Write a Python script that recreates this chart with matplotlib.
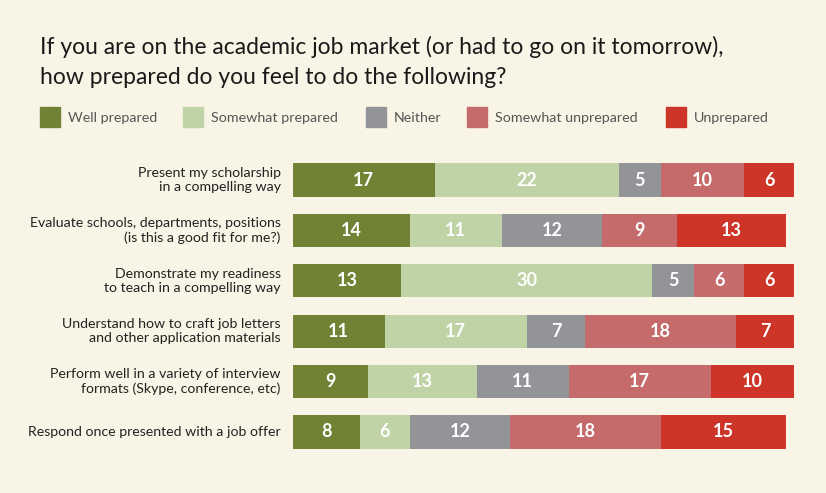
import matplotlib.pyplot as plt
import numpy as np

plt.rcParams['font.family'] = ['Lato', 'DejaVu Sans']

questions = ["Present my scholarship\nin a compelling way",
             "Evaluate schools, departments, positions\n(is this a good fit for me?)",
             "Demonstrate my readiness\nto teach in a compelling way",
             "Understand how to craft job letters\nand other application materials",
             "Perform well in a variety of interview\nformats (Skype, conference, etc)",
             "Respond once presented with a job offer"]
categories = ["Well prepared", "Somewhat prepared", "Neither", "Somewhat unprepared", "Unprepared"]
well = [17, 14, 13, 11, 9, 8]
somewhat = [22, 11, 30, 17, 13, 6]
neither = [5, 12, 5, 7, 11, 12]
some_un = [10, 9, 6, 18, 17, 18]
unprep = [6, 13, 6, 7, 10, 15]
series = [well, somewhat, neither, some_un, unprep]
colors = ['#718235', '#bfd3a6', '#939498', '#c56b6b', '#cc3527']
bg = '#f8f5e6'

W, H = 826, 493
fig = plt.figure(figsize=(W/100, H/100), dpi=100, facecolor=bg)
px = lambda x, y: (x/W, 1-y/H)

# bar area: x 292.7 -> 794.3 for 60 units, rows 50.4px apart
ax = fig.add_axes([292.7/W, 1-457.2/H, 501.6/W, 302.4/H])
ax.set_facecolor(bg)
ax.set_xlim(0, 60)
ax.set_ylim(5.5, -0.5)
ax.axis('off')

y = np.arange(len(questions))
left = np.zeros(len(questions))
for vals, c in zip(series, colors):
    vals = np.array(vals)
    ax.barh(y, vals, left=left, height=0.66, color=c, linewidth=0)
    for yi, l, v in zip(y, left, vals):
        ax.text(l+v/2, yi, str(v), ha='center', va='center', color='white',
                fontsize=13, fontweight='bold')
    left += vals

for yi, q in zip(y, questions):
    ax.text(-1.45, yi, q, ha='right', va='center', fontsize=10.2,
            color='#222222', linespacing=1.25)

# title
fig.text(*px(40, 47), "If you are on the academic job market (or had to go on it tomorrow),",
         fontsize=16.5, color='#1a1a1a', va='center', ha='left')
fig.text(*px(40, 77), "how prepared do you feel to do the following?",
         fontsize=16.5, color='#1a1a1a', va='center', ha='left')

# legend
leg_x = [40, 183, 366, 467, 666]
for lx, lab, c in zip(leg_x, categories, colors):
    fig.patches.append(plt.Rectangle(px(lx, 127), 20/W, 20/H, color=c,
                                     transform=fig.transFigure, figure=fig))
    fig.text(*px(lx+28, 118), lab, fontsize=10.3, color='#555555',
             va='center', ha='left')

fig.savefig('out.png', dpi=100, facecolor=bg)
